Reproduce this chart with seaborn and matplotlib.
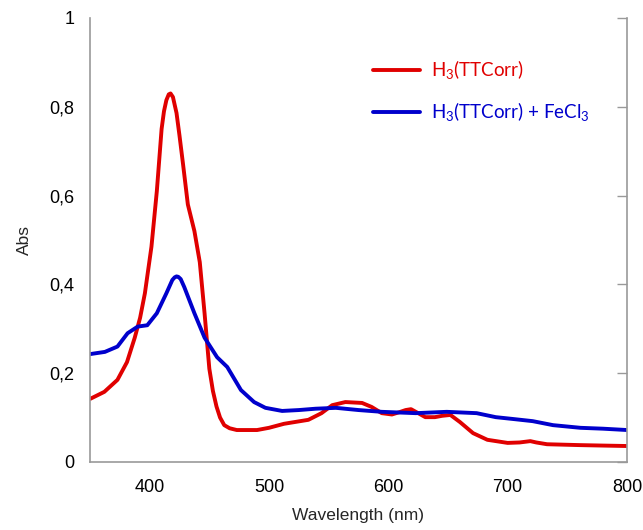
import matplotlib
matplotlib.use("Agg")
import matplotlib.pyplot as plt
import seaborn as sns
import pandas as pd

# ---- data ----
wl_red = [350, 362, 373, 381, 387.5, 392, 396, 401.5, 406, 410, 412, 414, 416, 417.5, 419.5,
          422.5, 425, 428, 432, 437.5, 442, 446, 450, 453, 456, 459, 462.5, 467, 473, 490, 500,
          512.5, 517, 533, 544, 553, 564, 578, 586, 594.5, 603, 609, 614.5, 619, 623, 631, 639,
          645, 652, 660, 671, 683, 700, 710, 716, 719, 724, 733, 761, 780, 800]
abs_red = [0.142, 0.158, 0.185, 0.225, 0.28, 0.325, 0.38, 0.485, 0.61, 0.75, 0.79, 0.815, 0.828,
           0.83, 0.822, 0.786, 0.735, 0.67, 0.58, 0.52, 0.45, 0.335, 0.21, 0.16, 0.125, 0.1,
           0.083, 0.076, 0.072, 0.072, 0.077, 0.086, 0.088, 0.095, 0.11, 0.128, 0.135, 0.133,
           0.124, 0.11, 0.107, 0.112, 0.117, 0.119, 0.113, 0.101, 0.101, 0.104, 0.106, 0.09,
           0.065, 0.05, 0.043, 0.044, 0.046, 0.047, 0.044, 0.04, 0.038, 0.037, 0.036]

wl_blue = [350, 362.5, 373, 381.5, 390, 398, 406, 414, 419, 421, 422.5, 424, 426, 429, 437.5,
           446, 456.5, 465, 476.5, 487.5, 497, 511, 525, 539, 556, 575, 594.5, 623, 649, 674,
           690, 704, 721, 738, 761, 780, 800]
abs_blue = [0.243, 0.248, 0.26, 0.29, 0.305, 0.308, 0.335, 0.38, 0.41, 0.416, 0.418, 0.417,
            0.412, 0.394, 0.335, 0.28, 0.236, 0.214, 0.162, 0.135, 0.122, 0.115, 0.117, 0.12,
            0.122, 0.117, 0.113, 0.11, 0.113, 0.11, 0.101, 0.097, 0.092, 0.083, 0.077, 0.075,
            0.072]

series_names = [r"H$_3$(TTCorr)", r"H$_3$(TTCorr) + FeCl$_3$"]
series_colors = ["#e00000", "#0000cc"]

x_ticks = [400, 500, 600, 700, 800]
y_ticks = [0, 0.2, 0.4, 0.6, 0.8, 1]
y_tick_labels = ["0", "0,2", "0,4", "0,6", "0,8", "1"]

# ---- build long table ----
df = pd.concat([
    pd.DataFrame({"Wavelength": wl_red, "Abs": abs_red, "series": series_names[0]}),
    pd.DataFrame({"Wavelength": wl_blue, "Abs": abs_blue, "series": series_names[1]}),
], ignore_index=True)

sns.set_style("white")
plt.rcParams["font.family"] = ["Liberation Sans", "DejaVu Sans"]
plt.rcParams["mathtext.fontset"] = "custom"
plt.rcParams["mathtext.rm"] = "Lato"

fig = plt.figure(figsize=(6.43, 5.30), dpi=100)
ax = fig.add_axes([90 / 643, 1 - 462 / 530, 537 / 643, 444 / 530])

sns.lineplot(data=df, x="Wavelength", y="Abs", hue="series", hue_order=series_names,
             palette=series_colors, linewidth=2.8, sort=False, ax=ax, legend=False)
for line in ax.lines:
    line.set_solid_joinstyle("round")
    line.set_solid_capstyle("round")

ax.set_xlim(350, 800)
ax.set_ylim(0, 1)
ax.set_xticks(x_ticks)
ax.set_yticks(y_ticks)
ax.set_yticklabels(y_tick_labels)
ax.tick_params(axis="both", direction="in", length=7, width=1, color="#999999",
               labelsize=13, labelcolor="black")
ax.tick_params(axis="x", pad=12)
ax.tick_params(axis="y", right=True, pad=11)
ax.set_xlabel("Wavelength (nm)", fontsize=12.5, labelpad=9)
ax.set_ylabel("Abs", fontsize=12.5, labelpad=13)

for s in ["left", "bottom", "right"]:
    ax.spines[s].set_color("#999999")
    ax.spines[s].set_linewidth(1.2)
ax.spines["top"].set_visible(False)

# legend
handles = [plt.Line2D([], [], color=c, linewidth=2.8) for c in series_colors]
leg = ax.legend(handles, series_names, loc="upper left", bbox_to_anchor=(0.495, 0.947),
                frameon=False, handlelength=2.5, handletextpad=0.6, labelspacing=1.0,
                prop={"family": "Lato", "size": 13.5})
for t, c in zip(leg.get_texts(), series_colors):
    t.set_color(c)

fig.savefig("out.png", dpi=100)
